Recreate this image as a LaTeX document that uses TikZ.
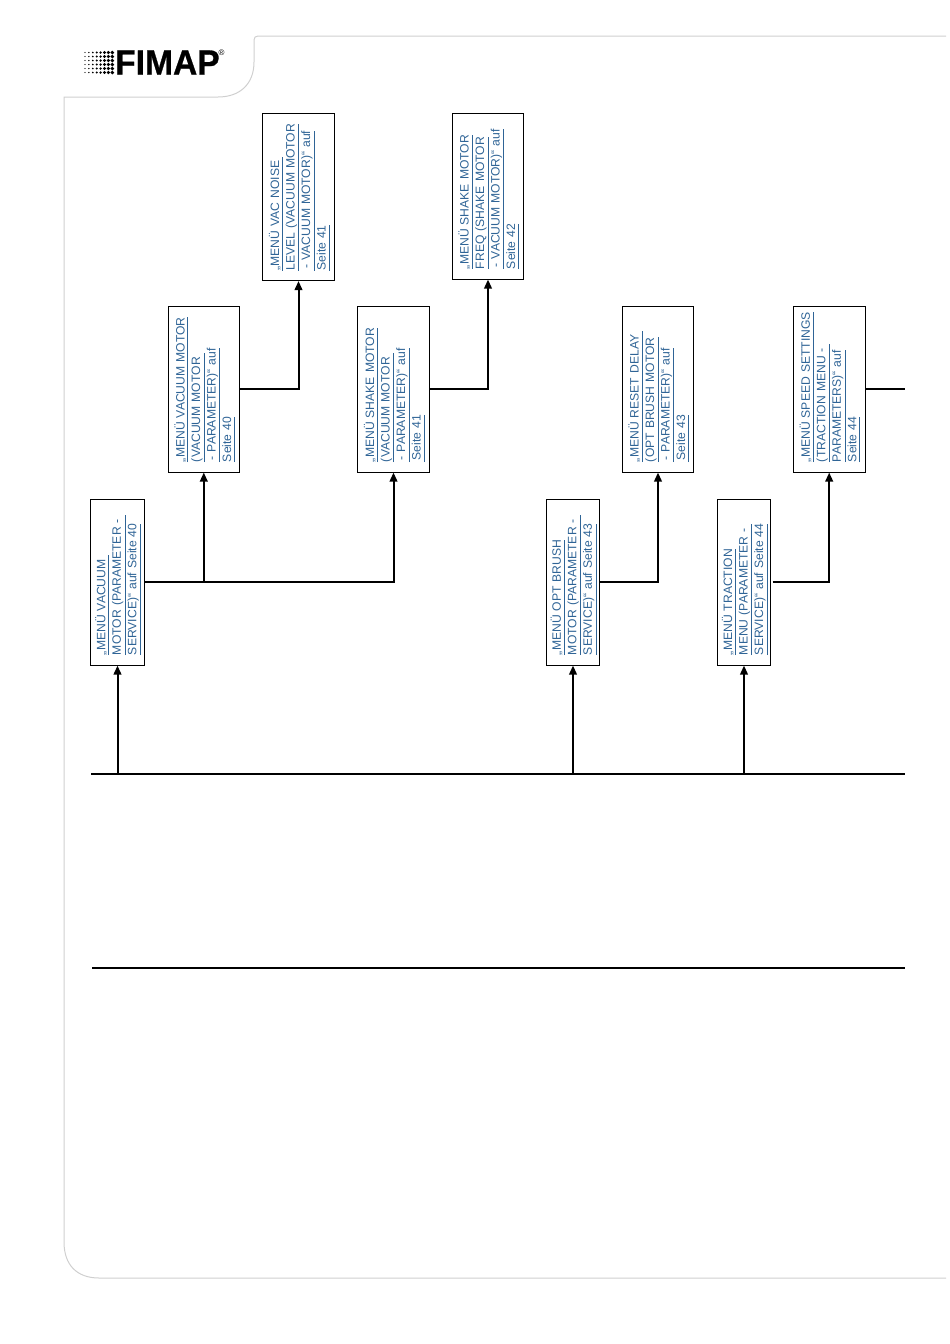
\documentclass[tikz,border=0pt]{standalone}
\usepackage{fontspec}
\setmainfont{Liberation Sans}
\newfontfamily\logofont[UprightFont=* Bold,FakeBold=0.8]{Liberation Sans}
\usetikzlibrary{arrows.meta}
\definecolor{linkblue}{HTML}{2F6496}
\definecolor{frameg}{HTML}{CFCFCF}
\newcommand{\ulline}[1]{{\color{linkblue}\underline{#1\rule[-1.6pt]{0pt}{1pt}}}}
\newcommand{\ind}{\hspace{1.8pt}}
\tikzset{
  menubox/.style={draw=black,line width=1pt,rotate=90,inner sep=0pt,anchor=center,
    align=left,text=linkblue,font=\fontsize{12.15}{15.5}\selectfont,
    execute at begin node={\rule{0pt}{11.5pt}}},
  conn/.style={draw=black,line width=2pt},
  arr/.style={conn,-{Triangle[length=9pt,width=7.5pt]}},
  bus/.style={draw=black,line width=2pt},
  frameline/.style={draw=frameg,line width=1pt}
}
\begin{document}
\begin{tikzpicture}[x=1pt,y=-1pt]
\useasboundingbox (0,0) rectangle (950,1344);
% page frame
\draw[frameline] (946,36) -- (258,36) .. controls (255.5,36) and (254,37.5) .. (254,40)
  -- (254,62) .. controls (254,84) and (240,97) .. (218,97) -- (64,97)
  -- (64,1242) .. controls (64,1265) and (77,1278) .. (99,1278) -- (946,1278);
% logo
\foreach \i in {0,...,7}{
  \foreach \j in {0,...,5}{
    \pgfmathsetmacro{\rr}{0.55+0.2*\i}
    \fill[black] (85+3.9*\i,52.5+4*\j) circle[radius=\rr];
  }
}
\node[inner sep=0pt,anchor=west,font=\logofont\fontsize{35}{35}\selectfont,xscale=0.96] (logo) at (115,62.5) {FIMAP};
\node[inner sep=0pt,font=\fontsize{8}{8}\selectfont] (reg) at (221.5,53) {®};
% boxes
\node[menubox,minimum width=166pt,minimum height=54pt,text width=146pt] (vac) at (117.5,582) {\ulline{„MENÜ VACUUM\ }\\\ulline{MOTOR (PARAMETER -\ }\\\ulline{SERVICE)“ auf Seite 40}};
\node[menubox,minimum width=166pt,minimum height=71.5pt,text width=146pt] (vacm) at (203.8,389) {\ulline{„MENÜ VACUUM MOTOR}\\\ulline{(VACUUM MOTOR\ }\\\ulline{\ind - PARAMETER)“ auf}\\\ulline{Seite 40}};
\node[menubox,minimum width=167pt,minimum height=71.5pt,text width=147pt] (noise) at (298.5,197) {\ulline{„MENÜ VAC NOISE\ }\\\ulline{LEVEL (VACUUM MOTOR}\\\ulline{\ind - VACUUM MOTOR)“ auf}\\\ulline{Seite 41}};
\node[menubox,minimum width=166pt,minimum height=72pt,text width=146pt] (shake) at (393.5,389) {\ulline{„MENÜ SHAKE MOTOR}\\\ulline{(VACUUM MOTOR\ }\\\ulline{\ind - PARAMETER)“ auf}\\\ulline{\ind Seite 41}};
\node[menubox,minimum width=166pt,minimum height=71pt,text width=146pt] (freq) at (488,196) {\ulline{„MENÜ SHAKE MOTOR}\\\ulline{FREQ (SHAKE MOTOR}\\\ulline{\ind - VACUUM MOTOR)“ auf}\\\ulline{Seite 42}};
\node[menubox,minimum width=166pt,minimum height=53pt,text width=146pt] (brush) at (573,582) {\ulline{„MENÜ OPT BRUSH}\\\ulline{MOTOR (PARAMETER -\ }\\\ulline{SERVICE)“ auf Seite 43}};
\node[menubox,minimum width=166pt,minimum height=71pt,text width=146pt] (reset) at (658,389) {\ulline{„MENÜ RESET DELAY\ }\\\ulline{(OPT BRUSH MOTOR}\\\ulline{\ind - PARAMETER)“ auf}\\\ulline{\ind Seite 43}};
\node[menubox,minimum width=166pt,minimum height=53pt,text width=146pt] (trac) at (744,582) {\ulline{„MENÜ TRACTION}\\\ulline{MENU (PARAMETER -\ }\\\ulline{SERVICE)“ auf Seite 44}};
\node[menubox,minimum width=166pt,minimum height=72pt,text width=146pt] (speed) at (829.2,389) {\ulline{„MENÜ SPEED SETTINGS}\\\ulline{(TRACTION MENU -\ }\\\ulline{PARAMETERS)“ auf}\\\ulline{Seite 44}};
% bus lines
\coordinate (busL) at (91,774);
\coordinate (busR) at (905,774);
\coordinate (bus2L) at (92,968);
\coordinate (bus2R) at (905,968);
\coordinate (speedEnd) at (905,389);
\draw[bus] (busL) -- (busR);
\draw[bus] (bus2L) -- (bus2R);
% connectors
\draw[arr] (vac.west |- busL) -- (vac.west);
\draw[arr] (brush.west |- busL) -- (brush.west);
\draw[arr] (trac.west |- busL) -- (trac.west);
\draw[arr] (vac.south) -| (vacm.west);
\draw[arr] (vac.south) -| (shake.west);
\draw[arr] (vacm.south) -| (noise.west);
\draw[arr] (shake.south) -| (freq.west);
\draw[arr] (brush.south) -| (reset.west);
\draw[arr,shorten <=1.5pt] (trac.south) -| (speed.west);
\draw[conn] (speed.south) -- (speedEnd);
\end{tikzpicture}
\end{document}
